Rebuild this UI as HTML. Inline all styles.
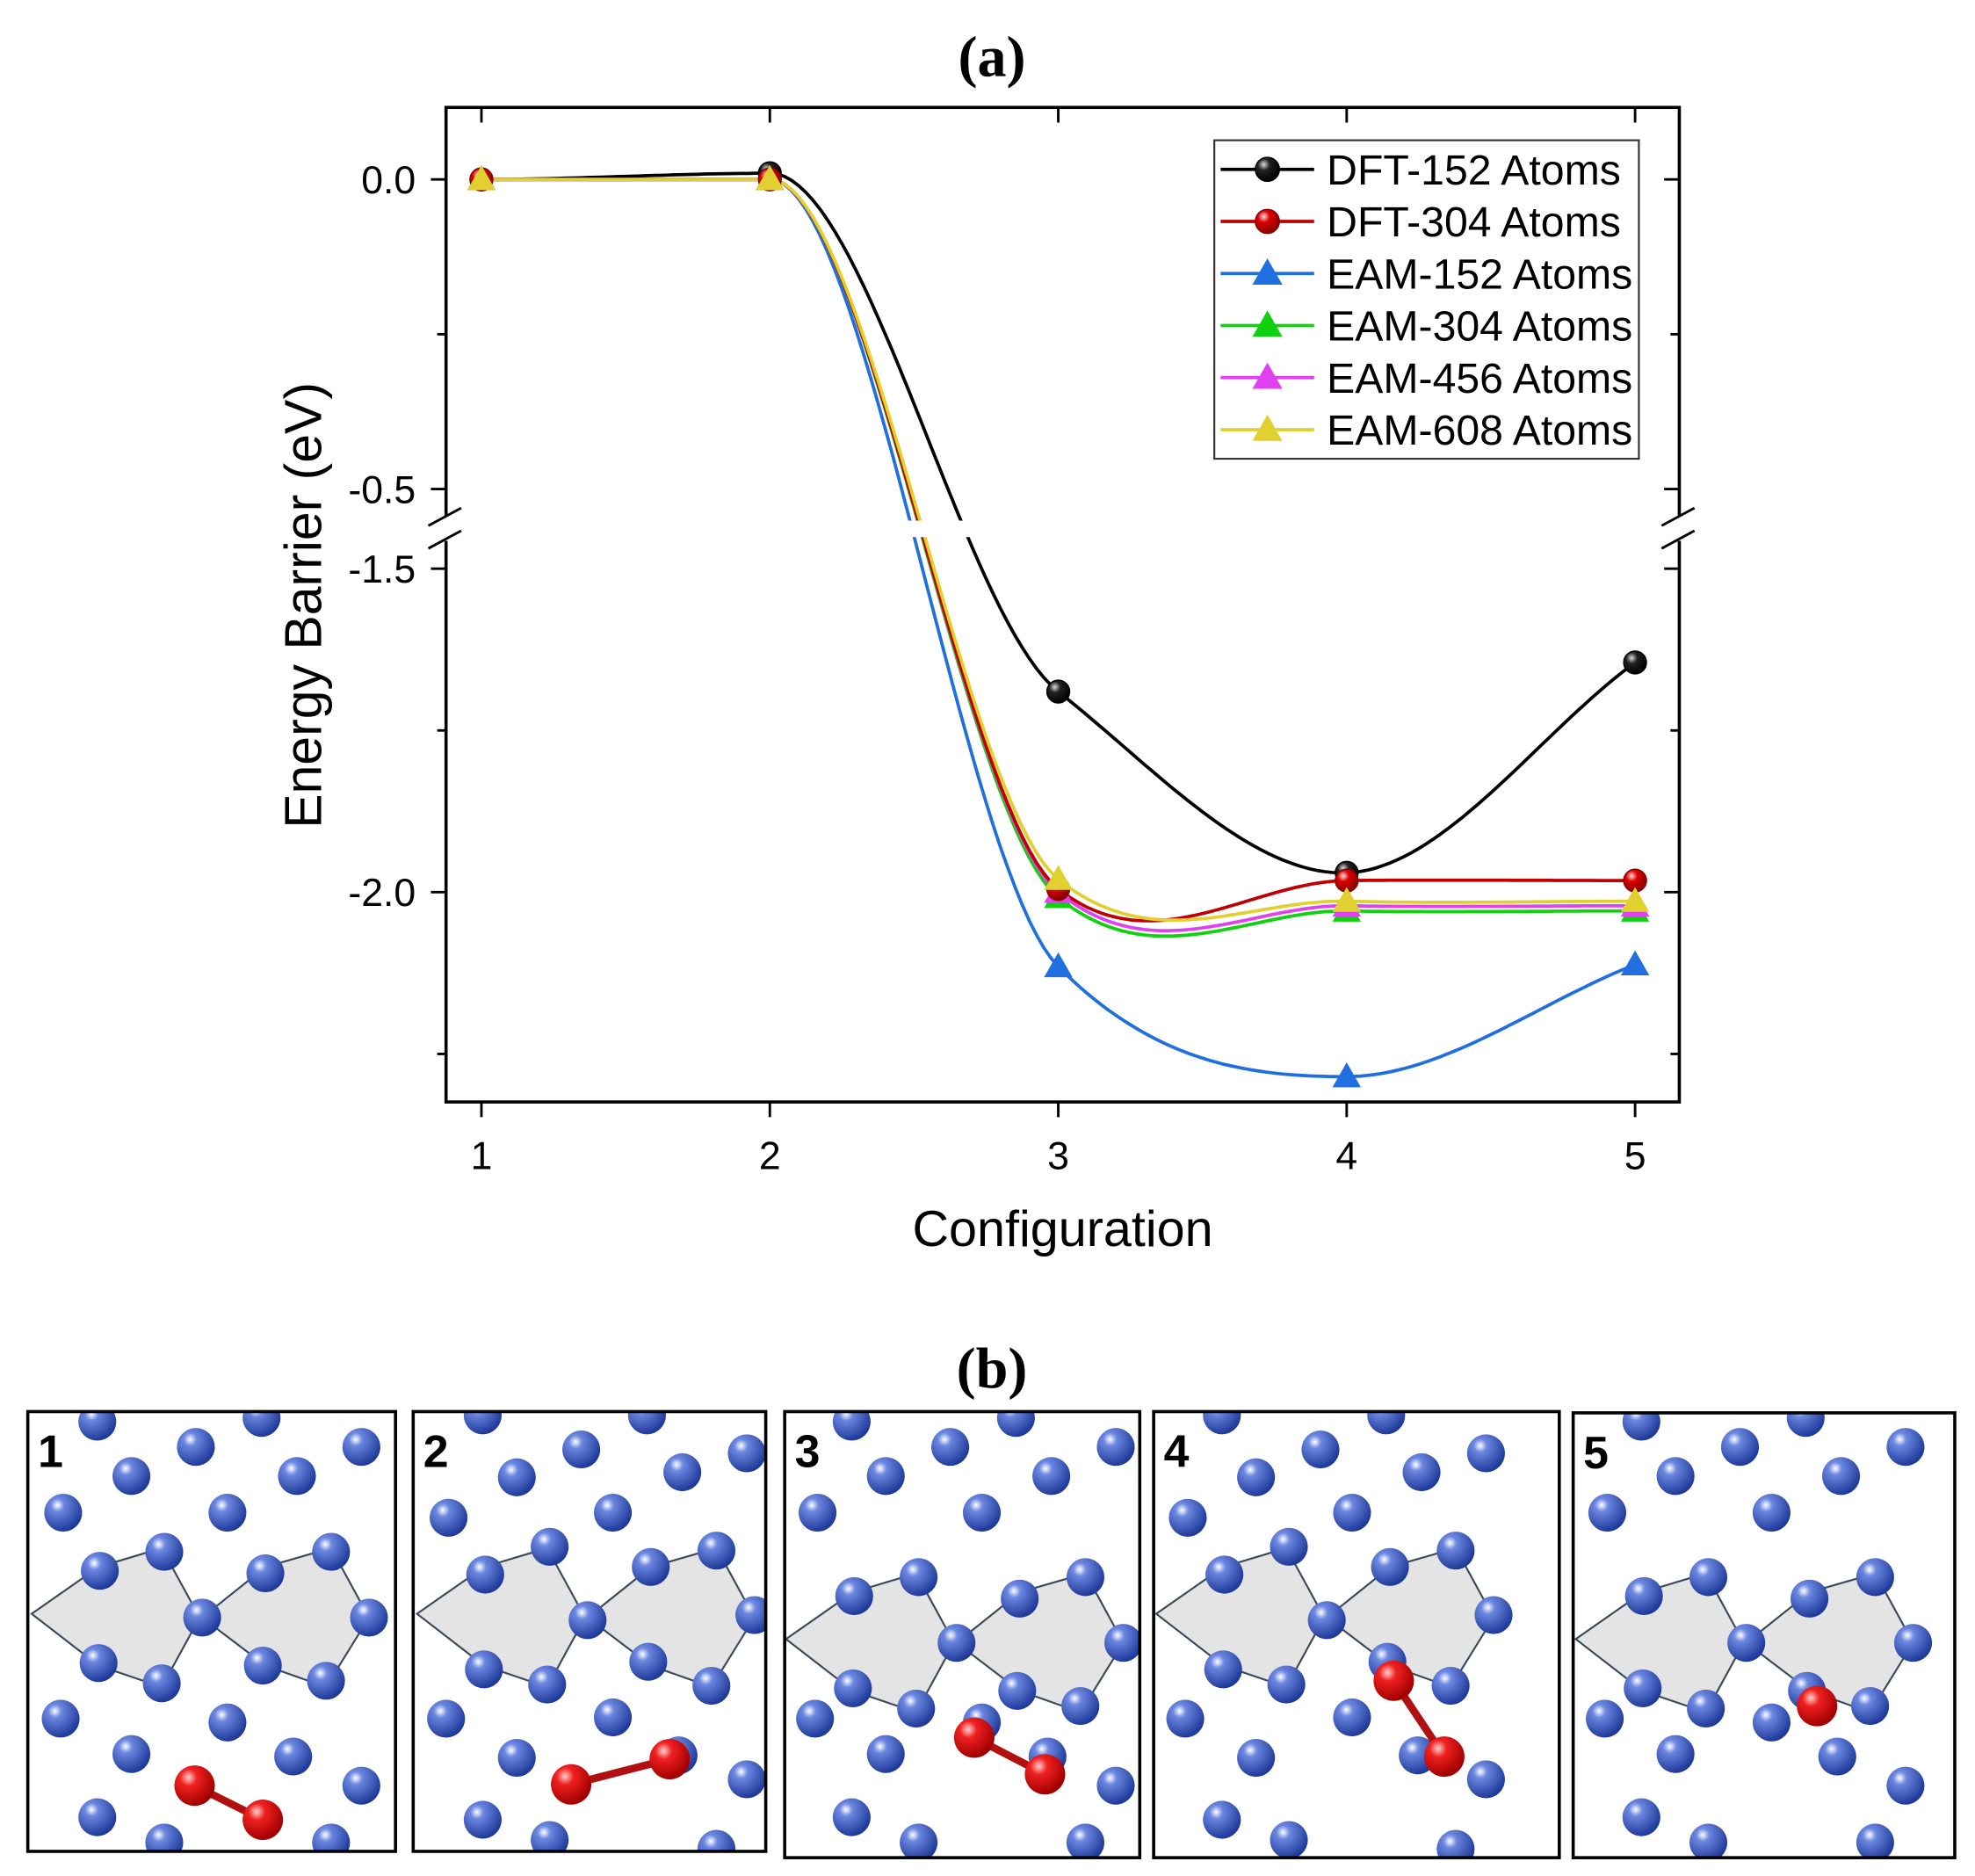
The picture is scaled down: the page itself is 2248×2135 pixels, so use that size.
<!DOCTYPE html>
<html><head><meta charset="utf-8">
<style>
html,body{margin:0;padding:0;background:#fff;}
svg{display:block;}
text{font-family:"Liberation Sans",Arial,sans-serif;}
</style></head>
<body>
<svg id="root" width="2248" height="2135" viewBox="0 0 1563 1484.5" preserveAspectRatio="none" xmlns="http://www.w3.org/2000/svg">
<defs>
<radialGradient id="gBall" cx="35%" cy="30%" r="70%"><stop offset="0" stop-color="#ffffff"/><stop offset="0.25" stop-color="#6b87e0"/><stop offset="1" stop-color="#1f3a99"/></radialGradient>
<radialGradient id="rBall" cx="35%" cy="30%" r="70%"><stop offset="0" stop-color="#ffd0d0"/><stop offset="0.3" stop-color="#f02020"/><stop offset="1" stop-color="#a00000"/></radialGradient>
<radialGradient id="kBall" cx="35%" cy="30%" r="70%"><stop offset="0" stop-color="#ddd"/><stop offset="0.35" stop-color="#222"/><stop offset="1" stop-color="#000"/></radialGradient>
<radialGradient id="kRed" cx="35%" cy="30%" r="70%"><stop offset="0" stop-color="#fdd"/><stop offset="0.35" stop-color="#d00"/><stop offset="1" stop-color="#800"/></radialGradient>
</defs>
<text x="785" y="60" text-anchor="middle" font-weight="bold" font-size="46" style="font-family:'Liberation Serif',serif">(a)</text>
<g id="chart"></g>
<text x="785" y="1098" text-anchor="middle" font-weight="bold" font-size="46" style="font-family:'Liberation Serif',serif">(b)</text>
<g id="panels"></g>
</svg>
<script>
const categories = [1, 2, 3, 4, 5];
const seriesNames = ["DFT-152 Atoms","DFT-304 Atoms","EAM-152 Atoms","EAM-304 Atoms","EAM-456 Atoms","EAM-608 Atoms"];
const dft152 = [0, 0.01, -1.69, -1.97, -1.645];
const dft304 = [0, 0, -1.995, -1.982, -1.982];
const eam152 = [0, 0, -2.115, -2.285, -2.112];
const eam304 = [0, 0, -2.008, -2.029, -2.029];
const eam456 = [0, 0, -2.0, -2.021, -2.021];
const eam608 = [0, 0, -1.98, -2.014, -2.014];
const yTicksUpper = [0.0, -0.5];
const yTicksLower = [-1.5, -2.0];
const yTickLabels = ["0.0", "-0.5", "-1.5", "-2.0"];
const colors = ["#000000","#c00000","#1f6fe0","#10d010","#e040f0","#e0d030"];
const markers = ["circle","circle","tri","tri","tri","tri"];
const allSeries = [dft152, dft304, eam152, eam304, eam456, eam608];

const NS = "http://www.w3.org/2000/svg";
const chart = document.getElementById('chart');
function mk(tag, attrs, parent){const e=document.createElementNS(NS,tag);for(const k in attrs)e.setAttribute(k,attrs[k]);(parent||chart).appendChild(e);return e;}

const L=353,R=1329,T=85,B=872;
function xS(c){return 381 + (c-1)*228.25;}
function yS(v){
  if(v>=-0.5) return 142 + (0-v)/0.5*245;
  if(v<=-1.5) return 450 + (-1.5-v)/0.5*256;
  return 387 + (-0.5-v)/1.0*63;
}

let fr=mk('rect',{x:L,y:T,width:R-L,height:B-T,fill:'none',stroke:'#000','stroke-width':2.5});


categories.forEach(c=>{
  const x=xS(c);
  mk('line',{x1:x,y1:B,x2:x,y2:B+12,stroke:'#000','stroke-width':2});
  mk('line',{x1:x,y1:T,x2:x,y2:T+12,stroke:'#000','stroke-width':2});
  const t=mk('text',{x:x,y:B+53,'text-anchor':'middle','font-size':31});
  t.textContent=c;
  
  
});
const yt=[...yTicksUpper,...yTicksLower];
yt.forEach((v,i)=>{
  const y=yS(v);
  mk('line',{x1:L-12,y1:y,x2:L,y2:y,stroke:'#000','stroke-width':2});
  mk('line',{x1:R-12,y1:y,x2:R,y2:y,stroke:'#000','stroke-width':2});
  const t=mk('text',{x:L-24,y:y+11,'text-anchor':'end','font-size':31});
  t.textContent=yTickLabels[i];
  
  
});
[-0.25,-1.75,-2.25].forEach(v=>{
  const y=yS(v);
  mk('line',{x1:L-7,y1:y,x2:L,y2:y,stroke:'#000','stroke-width':2});
  mk('line',{x1:R-7,y1:y,x2:R,y2:y,stroke:'#000','stroke-width':2});
});

// curves: Hermite spline in pixel space
function curvePts(vals){
  const n=vals.length, py=vals.map(yS), m=[];
  for(let i=0;i<n;i++){
    if(i<=1) m.push(0);
    else if(i===n-1) m.push(py[i]-py[i-1]);
    else m.push((py[i+1]-py[i-1])/2*0.65);
  }
  const pts=[];
  for(let i=0;i<n-1;i++){
    for(let s=0;s<=40;s++){
      const t=s/40,h00=2*t*t*t-3*t*t+1,h10=t*t*t-2*t*t+t,h01=-2*t*t*t+3*t*t,h11=t*t*t-t*t;
      const y=h00*py[i]+h10*m[i]+h01*py[i+1]+h11*m[i+1];
      pts.push([xS(categories[i]+t),y]);
    }
  }
  return pts;
}
const drawOrder=[0,2,3,4,1,5];
drawOrder.forEach(si=>{
  const p=curvePts(allSeries[si]);
  const path=mk('path',{d:'M'+p.map(q=>q[0].toFixed(1)+','+q[1].toFixed(1)).join('L'),fill:'none',stroke:colors[si],'stroke-width':2.6});
  
  
});
mk('rect',{x:L+2,y:412,width:R-L-4,height:13,fill:'#fff'});
[L,R].forEach(x=>{
  mk('rect',{x:x-14,y:408,width:28,height:20,fill:'#fff'});
  mk('line',{x1:x-14,y1:416,x2:x+12,y2:402,stroke:'#000','stroke-width':2});
  mk('line',{x1:x-14,y1:434,x2:x+12,y2:420,stroke:'#000','stroke-width':2});
});

function marker(type,cx,cy,si,size){
  let e;
  if(type==='circle'){
    e=mk('circle',{cx:cx,cy:cy,r:size,fill:si===0?'url(#kBall)':'url(#kRed)',stroke:si===0?'#000':'#800','stroke-width':1});
  } else {
    const s=size*1.25;
    e=mk('polygon',{points:`${cx},${cy-s} ${cx+s},${cy+s*0.75} ${cx-s},${cy+s*0.75}`,fill:colors[si]});
  }
  return e;
}
drawOrder.forEach(si=>{
  allSeries[si].forEach((v,i)=>{
    const e=marker(markers[si],xS(categories[i]),yS(v),si,9);
    
    
  });
});

let xt=mk('text',{x:841,y:986,'text-anchor':'middle','font-size':40});
xt.textContent='Configuration';


let ytl=mk('text',{x:0,y:0,'text-anchor':'middle','font-size':41,transform:'translate(254,479) rotate(-90)'});
ytl.textContent='Energy Barrier (eV)';



const lg=mk('g',{});


mk('rect',{x:961,y:111,width:336,height:252,fill:'#fff',stroke:'#333','stroke-width':1.5},lg);
seriesNames.forEach((nm,i)=>{
  const y=134+i*41.2;
  const g=mk('g',{},lg);
  
  
  mk('line',{x1:966,y1:y,x2:1040,y2:y,stroke:colors[i],'stroke-width':2.6},g);
  g.appendChild(marker(markers[i],1003,y,i,9.5));
  const t=mk('text',{x:1050,y:y+12,'font-size':33.5},g);
  t.textContent=nm;
});

const panels=document.getElementById('panels');
const panelBoxes=[[22,1117,291,348,0],[327,1117,279,348,305],[621,1117,281,353,597],[913,1117,321,353,890],[1245,1118,302,352,1222]];
const baseAtoms=[[77,1125],[155,1145],[207,1122],[286,1145],[104,1168],[235,1168],[50,1197],[180,1197],[130,1228],[79,1243],[262,1228],[210,1245],[160,1280],[292,1280],[78,1316],[128,1332],[208,1318],[258,1330],[48,1360],[180,1363],[104,1388],[232,1390],[286,1413],[77,1438],[130,1458],[262,1458]];
const reds=[[[154,1413],[208,1440]],[[452,1412],[530,1392]],[[771,1375],[827,1404]],[[1103,1330],[1143,1390]],[[1438,1350]]];
const dy=[0,0,20,0,20];
panelBoxes.forEach((b,k)=>{
  const g=document.createElementNS(NS,'g');
  
  
  panels.appendChild(g);
  const cp=mk('clipPath',{id:'cp'+k},g);
  mk('rect',{x:b[0],y:b[1],width:b[2],height:b[3]},cp);
  const inner=mk('g',{'clip-path':'url(#cp'+k+')'},g);
  const ox=b[4], oy=dy[k];
  const hexL=[[25,1277],[78,1240],[128,1225],[158,1280],[128,1335],[78,1318]];
  const hexR=[[160,1280],[210,1240],[262,1225],[292,1280],[258,1335],[210,1318]];
  [hexL,hexR].forEach(h=>mk('polygon',{points:h.map(p=>(p[0]+ox)+','+(p[1]+oy)).join(' '),fill:'#e4e4e4',stroke:'#3a4a5a','stroke-width':1.5},inner));
  baseAtoms.forEach((a,i)=>{
    const yy=a[1]+((a[1]>1200&&a[1]<1345)?oy:0)+(k%2?((i*7)%11-5):0);
    mk('circle',{cx:a[0]+ox,cy:yy,r:15,fill:'url(#gBall)'},inner);
  });
  const rr=reds[k];
  if(rr.length===2) mk('line',{x1:rr[0][0],y1:rr[0][1],x2:rr[1][0],y2:rr[1][1],stroke:'#b01010','stroke-width':6},inner);
  rr.forEach(p=>mk('circle',{cx:p[0],cy:p[1],r:16,fill:'url(#rBall)'},inner));
  mk('rect',{x:b[0],y:b[1],width:b[2],height:b[3],fill:'none',stroke:'#000','stroke-width':2.5},g);
  const t=mk('text',{x:b[0]+8,y:b[1]+44,'font-size':36,'font-weight':'bold'},g);
  t.textContent=String(k+1);
});
</script>
</body></html>
